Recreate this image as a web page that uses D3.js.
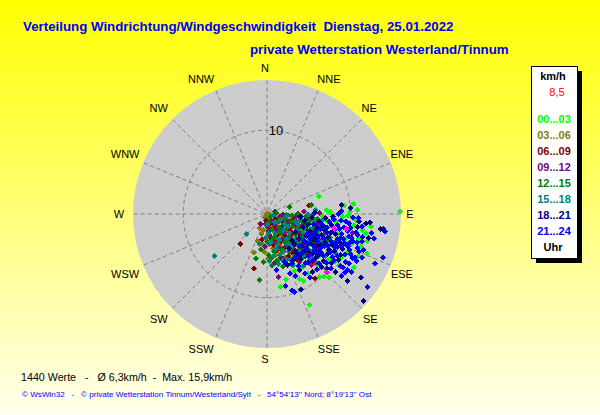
<!DOCTYPE html>
<html>
<head>
<meta charset="utf-8">
<script src="https://cdn.jsdelivr.net/npm/d3@7"></script>
<style>
html, body { margin: 0; padding: 0; background: #fff; }
svg { display: block; }
text { font-family: "Liberation Sans", Arial, sans-serif; }
</style>
</head>
<body>
<div id="rose"></div>
<script>
var canvasWidth = 600;
var canvasHeight = 415;

var directions = ["N","NNE","NE","ENE","E","ESE","SE","SSE","S","SSW","SW","WSW","W","WNW","NW","NNW"];
var rings = [10];
var classLabels = ["00...03","03...06","06...09","09...12","12...15","15...18","18...21","21...24"];
var classColors = ["#00ff00","#808000","#800000","#800080","#008000","#008080","#000080","#0000ff"];

/* wind points per time class: [east km/h, north km/h] */
var h00 = [[6.2,2.1],[7.1,.5],[10.3,1.2],[10.8,.5],[15.9,.3],[12.4,-1.5],[12,-3.2],[11.9,-4.7],[10.4,-6.4],[8.1,-5.7],[6.3,-7.5],[6.8,-7.5],[7.4,-7.6],[3.9,-7.8],[4.3,-8],[2.3,-7.8],[1.6,-8.7],[5.1,-10.9],[9.7,-.2],[9,-.4],[7.6,.2],[6.6,-.2],[8.2,-.9],[10.4,-1.4],[10.9,-3],[11.2,-3.9],[9.6,-4.5],[8.9,-5.1],[7.4,-5.4],[9.4,-2.9],[11.4,-1.9],[8.4,-2.4],[5.9,-6.1],[4.9,-7.1],[3.3,-6.8],[6.9,-3.8],[10.1,-3.6],[7.9,-1.6],[5.8,-.7],[10.9,-5],[11.8,-2.3],[9.2,1],[8.6,-6.1],[7,-6.6],[5.1,-5.9],[4.1,-6.3],[2.9,-6.1],[7.3,-.9],[10.6,-.7],[9.9,.3]];
var h03 = [[0,0],[-1.6,-4.6],[-1.1,-3.2],[.1,-5.3],[-.7,-2.4],[.2,-.7],[.8,-.2],[1.4,-.5],[-.4,-1.9],[.6,-1.4],[1.2,-1.1],[2,-.4],[2.3,-1.2],[.1,-2.6],[.9,-2.2],[1.7,-1.9],[2.6,-2.1],[-.5,-3.6],[.4,-3.3],[1.1,-3],[1.9,-2.8],[2.8,-.7],[3.2,-1.5],[3,-2.9],[.7,-4.1],[1.6,-3.8],[2.4,-3.5],[3.4,-3.3],[1,-4.9],[1.9,-4.6],[2.8,-4.4],[3.7,-.9],[-.3,-4.5],[.3,-.1],[1.5,-5.4],[4,-2.2],[3.8,-3.9],[-.9,-1.7],[-.2,-.4],[2.2,-5.2]];
var h06 = [[-3.2,-3.6],[5,1],[-.6,-3.1],[.4,-1.1],[1,-.6],[1.8,-.9],[2.5,-.2],[3.1,-.8],[3.9,-.3],[.2,-2],[1,-1.7],[1.9,-1.4],[2.7,-1.8],[3.5,-1.4],[4.4,-1.1],[.5,-2.9],[1.3,-2.5],[2.2,-2.6],[3,-2.2],[3.9,-2.5],[4.8,-1.9],[.8,-3.7],[1.6,-3.3],[2.5,-3.2],[3.3,-3.7],[4.2,-3.2],[5.1,-2.7],[1.2,-4.4],[2.1,-4.1],[3,-4.6],[4,-4.2],[4.8,-3.7],[1.6,-5.1],[2.6,-5],[3.6,-5.4],[5.7,-7.7],[4.6,-5],[5.6,-3.9],[-1.6,-6.5],[-.1,-.8]];
var h09 = [[-.8,-1.2],[-.2,-1.2],[1.4,-7.5],[.9,.3],[1.9,-.1],[.5,-.8],[1.5,-.3],[2.6,-.9],[3.4,-.4],[4.4,.3],[4.8,-.5],[5.6,0],[6.3,.1],[.1,-1.6],[.9,-1.3],[1.7,-1.6],[2.4,-1.3],[3.3,-1.2],[4.1,-1.5],[5,-1.1],[5.9,-1.3],[.3,-2.5],[1.2,-2],[2,-2.2],[2.8,-2.6],[3.7,-2.1],[4.5,-2.6],[5.4,-2.3],[.9,-3.2],[1.8,-3],[2.7,-3.4],[3.5,-3],[4.4,-3.5],[5.3,-3.2],[6.2,-3],[-.2,-3.9],[1.4,-4],[2.3,-3.9],[3.2,-4.2],[4.1,-4.7],[5,-4.4],[6,-4.2],[1.9,-5.3],[2.9,-5.6],[3.9,-5.7],[.9,-5.9],[5.3,-6.1],[10.2,-2.3]];
var h12 = [[2.7,.8],[5.3,1.1],[-.9,-7.9],[-1.3,-5.3],[-.4,-5.7],[-.7,-4.2],[.4,-.4],[1.1,.1],[2.2,-.6],[3,-.2],[3.7,.1],[4.6,-.3],[5.2,-.7],[6,-.6],[.6,-1.9],[1.4,-1.6],[2.2,-1.9],[3,-1.5],[3.8,-1.8],[4.7,-1.3],[5.5,-1.7],[6.4,-1.4],[.9,-2.7],[1.7,-2.4],[2.5,-2.8],[3.4,-2.5],[4.2,-2.8],[5,-2.4],[5.9,-2.9],[6.8,-2.4],[.3,-3.6],[1.3,-3.5],[2.1,-3.4],[3,-3.8],[3.8,-3.4],[4.7,-3.9],[5.6,-3.5],[6.5,-3.9],[.8,-4.5],[1.7,-4.3],[2.6,-4.5],[3.5,-4.8],[4.4,-4.4],[5.3,-4.9],[6.2,-4.7],[.2,-4.9],[1.2,-5.5],[2.2,-5.8],[3.2,-5.2],[4.2,-5.3],[5.1,-5.5],[.6,-6.2],[7.1,-3.2],[7.4,-4.4],[.2,-1],[1.3,-.9],[.7,-3],[2.9,-.9],[0,-3.3],[1.5,-2.1],[2.8,-3.1],[3.9,-4],[.6,-5.2],[1.9,-6.3],[2.3,-.1],[3.4,-.8],[4.2,-.9]];
var h15 = [[-6.3,-5],[-2.4,-2.4],[5.8,.5],[.7,-.2],[1.6,-.7],[2.4,-.3],[3.3,-.9],[4,-.6],[4.9,-.1],[5.6,-.9],[6.6,-.8],[1,-2.4],[1.9,-2],[2.7,-2.3],[3.5,-1.9],[4.3,-2.2],[5.2,-1.8],[6.1,-2.1],[7,-1.7],[.5,-3.4],[1.5,-3.1],[2.3,-3],[3.2,-3.2],[4,-3],[4.9,-3.3],[5.8,-3],[6.7,-3.3],[7.5,-2.8],[1.1,-4.2],[2,-4.4],[2.9,-4],[3.7,-4.4],[4.6,-4.1],[5.5,-4.4],[6.4,-3.5],[7.3,-3.9],[1.5,-4.9],[2.4,-5.4],[3.3,-5],[4.3,-5],[5.2,-5.2],[6.1,-5.1],[.3,-5.6],[3.1,-6.1],[4.4,-6.2],[5.9,-5.8],[8,-3.4],[8.1,-4.6],[7,-5],[-.2,-2.9],[-.9,-3.6],[.9,-1],[.2,-2.3],[2.1,-1.2],[1.2,-3.7],[2.6,-3.6],[.8,-5],[1.9,-5.6],[2.8,-5.5],[3.6,-3.6],[2.5,-1.5],[0,-1.3],[3.7,-1.3],[4.4,-1.7],[5.3,-.4],[1.4,-6]];
var h18 = [[5.7,.2],[8.9,1.1],[10,.7],[13.9,-1.8],[13.6,-1.8],[12.3,-1],[11.8,-1.1],[11.2,-7.6],[11.5,-10.4],[9.6,-8],[4.1,-9],[7.2,-6.5],[10.8,-1.5],[11,-.9],[4.5,-.8],[5.4,-.4],[6.2,-.9],[7,-.5],[7.9,-.3],[4.3,-1.6],[5.1,-2.1],[6,-1.7],[6.9,-2],[7.7,-1.3],[3.8,-2.9],[4.7,-2.6],[5.6,-2.9],[6.5,-2.5],[7.3,-2.8],[8.2,-2.4],[3.3,-3.6],[4.2,-3.9],[5.1,-3.5],[6,-3.8],[6.9,-3.4],[7.8,-3.7],[8.7,-3.4],[3.6,-4.7],[4.5,-4.4],[5.4,-4.8],[6.3,-4.4],[7.2,-4.8],[8.1,-4.4],[9,-4.2],[3.1,-5.6],[4,-5.4],[4.9,-5.8],[5.8,-5.3],[6.7,-5.6],[7.7,-5.9],[8.5,-5.5],[3.9,-6.7],[5.4,-6.9],[6.5,-6.3],[8.2,-6.9],[2.4,-6.1],[12.1,-2.9],[4.9,-1.2],[5.8,-2.4],[6.7,-1.4],[7.6,-2.3],[4.4,-3.3],[5.5,-3.1],[6.4,-3.7],[7.4,-4.2],[8.4,-3.9],[3.9,-5],[5,-4.6],[6.1,-5],[8.8,-4.9],[4,-.3],[3,-3.2],[3.4,-2.2],[2.6,-4.1],[3.4,-4.4]];
var h21 = [[14.1,-2.1],[13.8,-5.2],[12.9,-5.9],[12,-8.7],[12.8,-2.9],[12.5,-2.3],[3.3,-9.3],[3,-9.1],[2.2,-8.6],[1.1,-6.7],[5.1,-7.6],[9.3,-7],[9.6,-6.7],[10.7,-5.6],[10.9,-.5],[8.9,.4],[8.5,0],[8,-.6],[9.4,-.9],[10.3,-.4],[11.3,-1.5],[5.6,-1.3],[6.5,-1.2],[7.4,-.9],[8.4,-1.3],[9.2,-1.6],[10,-1.7],[4.8,-2.4],[5.7,-2.1],[6.4,-1.8],[7.2,-2.2],[8,-2],[8.9,-2.4],[9.8,-2.7],[10.8,-2.5],[11.4,-2.8],[4.4,-3.2],[5.2,-3],[6,-3.3],[6.8,-2.9],[7.6,-3.3],[8.4,-3],[9.3,-3.5],[10.3,-3.3],[11.3,-3.3],[3.9,-3.8],[4.7,-4.1],[5.6,-3.8],[6.4,-4.1],[7.2,-3.7],[8.1,-4],[8.9,-3.8],[9.9,-4.3],[10.8,-4.1],[11.5,-4.3],[3.4,-5.1],[4.2,-4.7],[5,-5],[5.9,-4.7],[6.7,-5],[7.5,-4.6],[8.4,-5],[9.3,-4.8],[10.2,-5.3],[11.3,-5.2],[3,-5.9],[3.8,-6.2],[4.6,-5.8],[5.4,-5.6],[6.2,-5.9],[7.1,-5.9],[8,-5.5],[8.8,-6.2],[9.8,-5.9],[2.1,-5.7],[4.5,-7.1],[6,-6.6],[7.6,-6.5],[8.9,-7.4],[10.1,-6.9],[2.7,-7.1],[3.4,-7.4],[5.3,-2.5],[6.1,-2.7],[6.9,-3.8],[4.8,-3.6],[5.7,-4.3],[6.5,-4.6],[7.8,-5.1],[8.7,-2.9],[7.2,-1.6],[8.2,-3.5],[8.7,-1.8],[9.6,-2],[10.6,-2.2],[9.1,-3],[10.1,-2.9],[9.7,-3.9],[10.7,-3.4],[10,-4.8],[11,-4.5],[9.4,-5.7],[10.5,-5.2],[9.1,-6.4],[8.8,-.8],[9.8,-1.1],[9.9,-3.4]];
var markMagenta = [[7.2,-7],[8.1,-1.8],[9.5,-1.8]];
var markRed = [[5.5,-5.9]];

/* small shifts of the compass labels from their radial spot, as in the picture */
var dirNudgeX = [-1,7,0,1,-2,1,1,7,-1,-9,-4,-6,-1,-6,-4,-9];
var dirNudgeY = [0,0,-3,-4,0,4,2,0,-1,0,2,4,0,-4,-3,0];

var pointGroups = [h00,h03,h06,h09,h12,h15,h18,markRed,h21,markMagenta];
var pointColors = classColors.slice(0,7).concat(["#ff0000",classColors[7],"#ff00ff"]);

var svg = d3.select("#rose")
    .append("svg")
    .attr("width",canvasWidth)
    .attr("height",canvasHeight);

var defs = svg.append("defs");

var grad = defs.append("linearGradient")
    .attr("id","bg")
    .attr("x1",0).attr("y1",0).attr("x2",0).attr("y2",1);
grad.append("stop").attr("offset","0%").attr("stop-color","#ffff00");
grad.append("stop").attr("offset","100%").attr("stop-color","#ffffee");

/* the grey disc has a faint dotted texture */
var pat = defs.append("pattern")
    .attr("id","speckle")
    .attr("width",4).attr("height",4)
    .attr("patternUnits","userSpaceOnUse");
pat.append("rect").attr("width",4).attr("height",4).attr("fill","#cbcbcb");
pat.append("rect").attr("x",1).attr("y",1).attr("width",1).attr("height",1).attr("fill","#d6d6d6");
pat.append("rect").attr("x",3).attr("y",3).attr("width",1).attr("height",1).attr("fill","#d6d6d6");

svg.append("rect")
    .attr("width",canvasWidth)
    .attr("height",canvasHeight)
    .attr("fill","url(#bg)");

/*Scales for the rose, km/h to pixels*/
var cx = 267, cy = 214;
var rScale = d3.scaleLinear().domain([0,16]).range([0,134]);
var xScale = d3.scaleLinear().domain([-16,16]).range([cx-134,cx+134]);
var yScale = d3.scaleLinear().domain([-16,16]).range([cy+134,cy-134]);

var rose = svg.append("g");

rose.append("circle")
    .attr("cx",xScale(0))
    .attr("cy",yScale(0))
    .attr("r",rScale(16))
    .attr("fill","url(#speckle)");

function angleOf(i) { return i * 2 * Math.PI / directions.length; }

rose.selectAll(".spoke")
    .data(directions)
    .join("line")
    .attr("class","spoke")
    .attr("x1",function(d,i){ return xScale(0) + rScale(0.4)*Math.sin(angleOf(i)); })
    .attr("y1",function(d,i){ return yScale(0) - rScale(0.4)*Math.cos(angleOf(i)); })
    .attr("x2",function(d,i){ return xScale(0) + rScale(15.9)*Math.sin(angleOf(i)); })
    .attr("y2",function(d,i){ return yScale(0) - rScale(15.9)*Math.cos(angleOf(i)); })
    .attr("stroke","#808080")
    .attr("stroke-width",1)
    .attr("stroke-dasharray","4 3");

rose.selectAll(".ring")
    .data(rings)
    .join("circle")
    .attr("class","ring")
    .attr("cx",xScale(0))
    .attr("cy",yScale(0))
    .attr("r",function(d){ return rScale(d); })
    .attr("fill","none")
    .attr("stroke","#808080")
    .attr("stroke-width",1)
    .attr("stroke-dasharray","4 3");

rose.selectAll(".ringLabel")
    .data(rings)
    .join("text")
    .attr("class","ringLabel")
    .attr("x",xScale(0)+9)
    .attr("y",function(d){ return yScale(0)-rScale(d)+5; })
    .attr("text-anchor","middle")
    .attr("font-size",13)
    .text(function(d){ return d; });

rose.selectAll(".dir")
    .data(directions)
    .join("text")
    .attr("class","dir")
    .attr("x",function(d,i){ return xScale(0) + 146*Math.sin(angleOf(i)) + dirNudgeX[i] - 1; })
    .attr("y",function(d,i){ return yScale(0) - 146*Math.cos(angleOf(i)) + 4 + dirNudgeY[i]; })
    .attr("text-anchor","middle")
    .attr("font-size",11)
    .attr("fill","#000")
    .text(function(d){ return d; });

/*Markers, one group per time class, later hours on top*/
var diamond = d3.symbol().type(d3.symbolSquare).size(18);

rose.selectAll(".hours")
    .data(pointGroups)
    .join("g")
    .attr("class","hours")
    .attr("fill",function(d,i){ return pointColors[i]; })
    .selectAll("path")
    .data(function(d){ return d; })
    .join("path")
    .attr("d",diamond)
    .attr("shape-rendering","crispEdges")
    .attr("transform",function(d){ return "translate(" + xScale(d[0]) + "," + yScale(d[1]) + ") rotate(45)"; });

/*Title*/
svg.append("text")
    .attr("x",23).attr("y",31)
    .attr("font-size",13.3)
    .attr("font-weight","bold")
    .attr("fill","#0000ff")
    .style("white-space","pre")
    .text("Verteilung Windrichtung/Windgeschwindigkeit  Dienstag, 25.01.2022");

svg.append("text")
    .attr("x",250).attr("y",54)
    .attr("font-size",13.3)
    .attr("font-weight","bold")
    .attr("fill","#0000ff")
    .text("private Wetterstation Westerland/Tinnum");

/*Legend box with its hard shadow*/
svg.append("rect")
    .attr("x",536).attr("y",71)
    .attr("width",46).attr("height",192)
    .attr("fill","#000");
svg.append("rect")
    .attr("x",531.5).attr("y",66.5)
    .attr("width",46).attr("height",192)
    .attr("fill","#fff")
    .attr("stroke","#000");

svg.append("text")
    .attr("x",553).attr("y",80)
    .attr("text-anchor","middle")
    .attr("font-size",11)
    .attr("font-weight","bold")
    .text("km/h");
svg.append("text")
    .attr("x",557).attr("y",96)
    .attr("text-anchor","middle")
    .attr("font-size",11)
    .attr("fill","#ff0000")
    .text("8,5");

svg.selectAll(".legendRow")
    .data(classLabels)
    .join("text")
    .attr("class","legendRow")
    .attr("x",554)
    .attr("y",function(d,i){ return 123 + i*16; })
    .attr("text-anchor","middle")
    .attr("font-size",11)
    .attr("font-weight","bold")
    .attr("fill",function(d,i){ return classColors[i]; })
    .text(function(d){ return d; });

svg.append("text")
    .attr("x",553).attr("y",251)
    .attr("text-anchor","middle")
    .attr("font-size",11)
    .attr("font-weight","bold")
    .text("Uhr");

/*Summary and footer*/
svg.append("text")
    .attr("x",21).attr("y",381)
    .attr("font-size",10.7)
    .style("white-space","pre")
    .text("1440 Werte   -   \u00d8 6,3km/h  -  Max. 15,9km/h");

svg.append("text")
    .attr("x",22).attr("y",397)
    .attr("font-size",8.1)
    .attr("fill","#0000ff")
    .style("white-space","pre")
    .text("\u00a9 WsWin32   -   \u00a9 private Wetterstation Tinnum/Westerland/Sylt   -   54\u00b054'13'' Nord; 8\u00b019'13'' Ost");
</script>
</body>
</html>
